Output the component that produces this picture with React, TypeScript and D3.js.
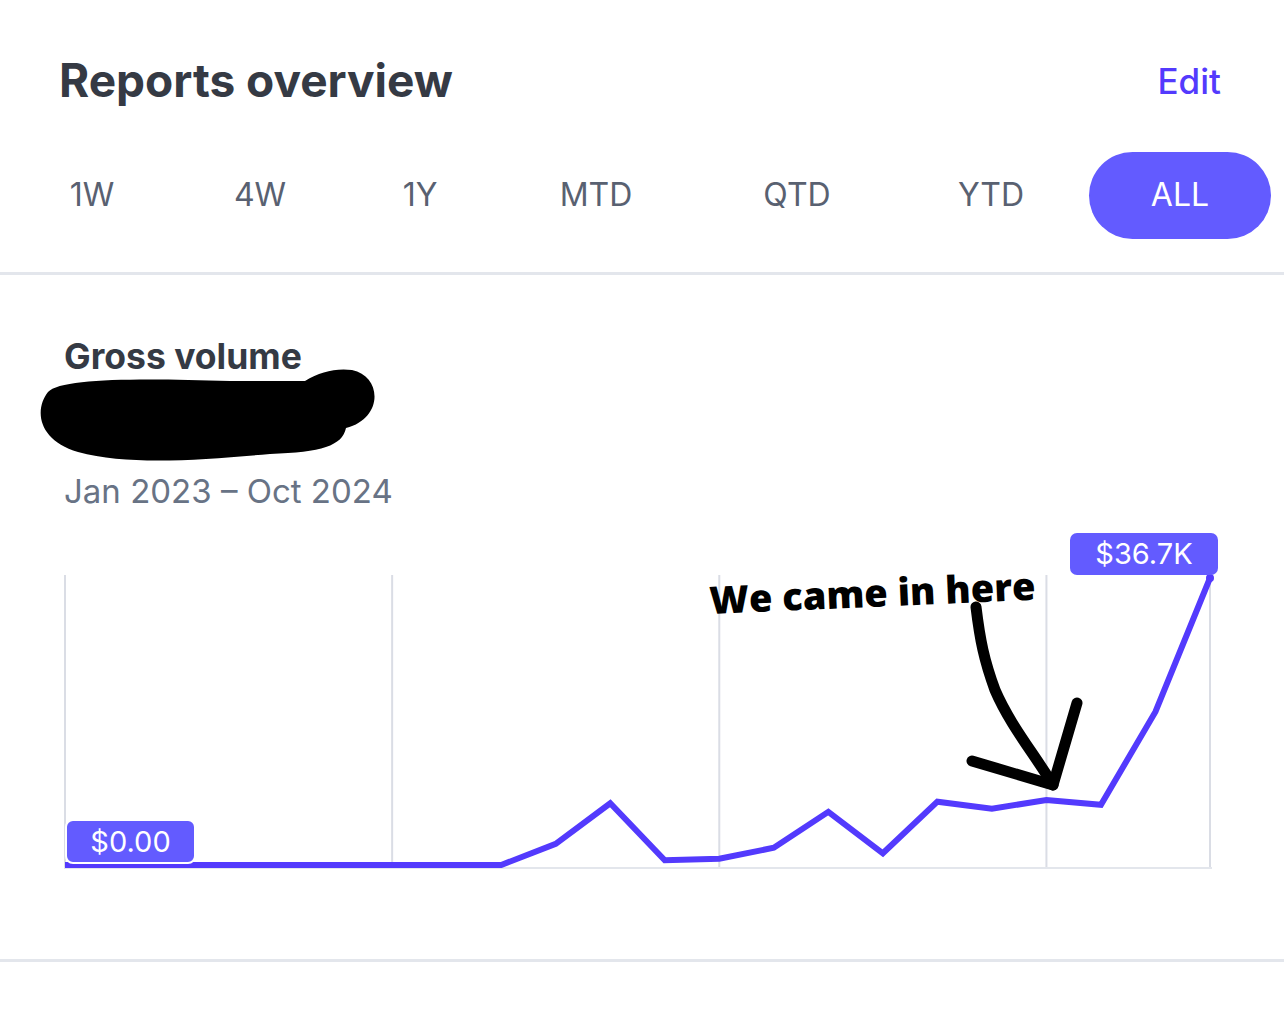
import React from "react";
import * as d3 from "d3";

const months = [
  "Jan 2023", "Feb 2023", "Mar 2023", "Apr 2023", "May 2023", "Jun 2023",
  "Jul 2023", "Aug 2023", "Sep 2023", "Oct 2023", "Nov 2023", "Dec 2023",
  "Jan 2024", "Feb 2024", "Mar 2024", "Apr 2024", "May 2024", "Jun 2024",
  "Jul 2024", "Aug 2024", "Sep 2024", "Oct 2024",
];
// gross volume in thousands of dollars
const volumeK = [0, 0, 0, 0, 0, 0, 0, 0, 0, 2.7, 7.9, 0.6, 0.8, 2.2, 6.8, 1.5, 8.1, 7.2, 8.3, 7.7, 19.6, 36.7];
const gridMonths = ["Jan 2023", "Jul 2023", "Jan 2024", "Jul 2024", "Oct 2024"];
const tabs = ["1W", "4W", "1Y", "MTD", "QTD", "YTD", "ALL"];
const tabX = [92, 260, 420, 596, 797, 991, 1180];
const startLabel = "$0.00";
const endLabel = "$36.7K";

const PURPLE = "#635bff";
const LINE = "#533afd";
const UI = "Inter, 'Noto Sans', sans-serif";

export default function App() {
  const x = d3.scalePoint<string>().domain(months).range([65, 1210]);
  const y = d3.scaleLinear().domain([0, 36.7]).range([865, 578]);
  const line = d3
    .line<number>()
    .x((_, i) => x(months[i]) as number)
    .y((d) => y(d));
  const path = line(volumeK) || "";
  const lastX = x(months[months.length - 1]) as number;
  const lastY = y(volumeK[volumeK.length - 1]);

  return (
    <svg
      width={1284}
      height={1018}
      style={{ position: "absolute", left: 0, top: 0, background: "#fff" }}
    >
      <rect x={0} y={0} width={1284} height={1018} fill="#fff" />
      <text x={59} y={97} fontFamily={UI} fontWeight={700} fontSize={46} fill="#353a44">
        Reports overview
      </text>
      <text x={1221} y={94} textAnchor="end" fontFamily={UI} fontWeight={500} fontSize={35} fill="#533afd">
        Edit
      </text>
      <rect x={1089} y={152} width={182} height={87} rx={43.5} fill={PURPLE} />
      {tabs.map((t, i) => (
        <text
          key={t}
          x={tabX[i]}
          y={206}
          textAnchor="middle"
          fontFamily={UI}
          fontSize={32}
          fill={t === "ALL" ? "#fff" : "#596171"}
        >
          {t}
        </text>
      ))}
      <rect x={0} y={272} width={1284} height={3} fill="#e3e6ec" />

      <text x={64} y={369} fontFamily={UI} fontWeight={700} fontSize={35.5} fill="#353a44">
        Gross volume
      </text>
      <path
        d="M 48 392 C 60 378, 140 378, 230 381 L 305 381 C 320 372, 335 368, 352 370 C 382 376, 384 418, 346 428 C 342 446, 322 452, 270 454 C 200 460, 130 466, 78 452 C 38 440, 34 410, 48 392 Z"
        fill="#000"
      />
      <text x={64} y={503} fontFamily={UI} fontSize={33} fill="#687385">
        Jan 2023 – Oct 2024
      </text>

      {gridMonths.map((m) => (
        <line
          key={m}
          x1={x(m)}
          x2={x(m)}
          y1={575}
          y2={868}
          stroke="#dadde5"
          strokeWidth={2}
        />
      ))}
      <line x1={64} x2={1212} y1={868} y2={868} stroke="#e3e6ec" strokeWidth={2} />

      <path d={path} fill="none" stroke={LINE} strokeWidth={6} strokeLinejoin="miter" />
      <circle cx={lastX} cy={lastY} r={4} fill={LINE} />

      <rect x={66} y={820} width={129} height={43} rx={7} fill={PURPLE} stroke="#fff" strokeWidth={2} />
      <text x={130.5} y={852} textAnchor="middle" fontFamily={UI} fontSize={29} fill="#fff">
        {startLabel}
      </text>
      <rect x={1070} y={533} width={148} height={42} rx={7} fill={PURPLE} />
      <text x={1144} y={564} textAnchor="middle" fontFamily={UI} fontSize={29} fill="#fff">
        {endLabel}
      </text>

      <text
        x={710}
        y={614}
        fontFamily="'Open Sans', sans-serif"
        fontWeight={800}
        fontSize={38}
        fill="#000"
        transform="rotate(-2.5 710 614)"
      >
        We came in here
      </text>
      <path
        d="M 976 607 C 980 640, 984 660, 995 690 C 1010 725, 1035 755, 1053 785"
        fill="none"
        stroke="#000"
        strokeWidth={11}
        strokeLinecap="round"
      />
      <path
        d="M 972 761 L 1053 785 L 1077 703"
        fill="none"
        stroke="#000"
        strokeWidth={11}
        strokeLinecap="round"
        strokeLinejoin="round"
      />
      <rect x={0} y={959} width={1284} height={3} fill="#e3e6ec" />
    </svg>
  );
}
